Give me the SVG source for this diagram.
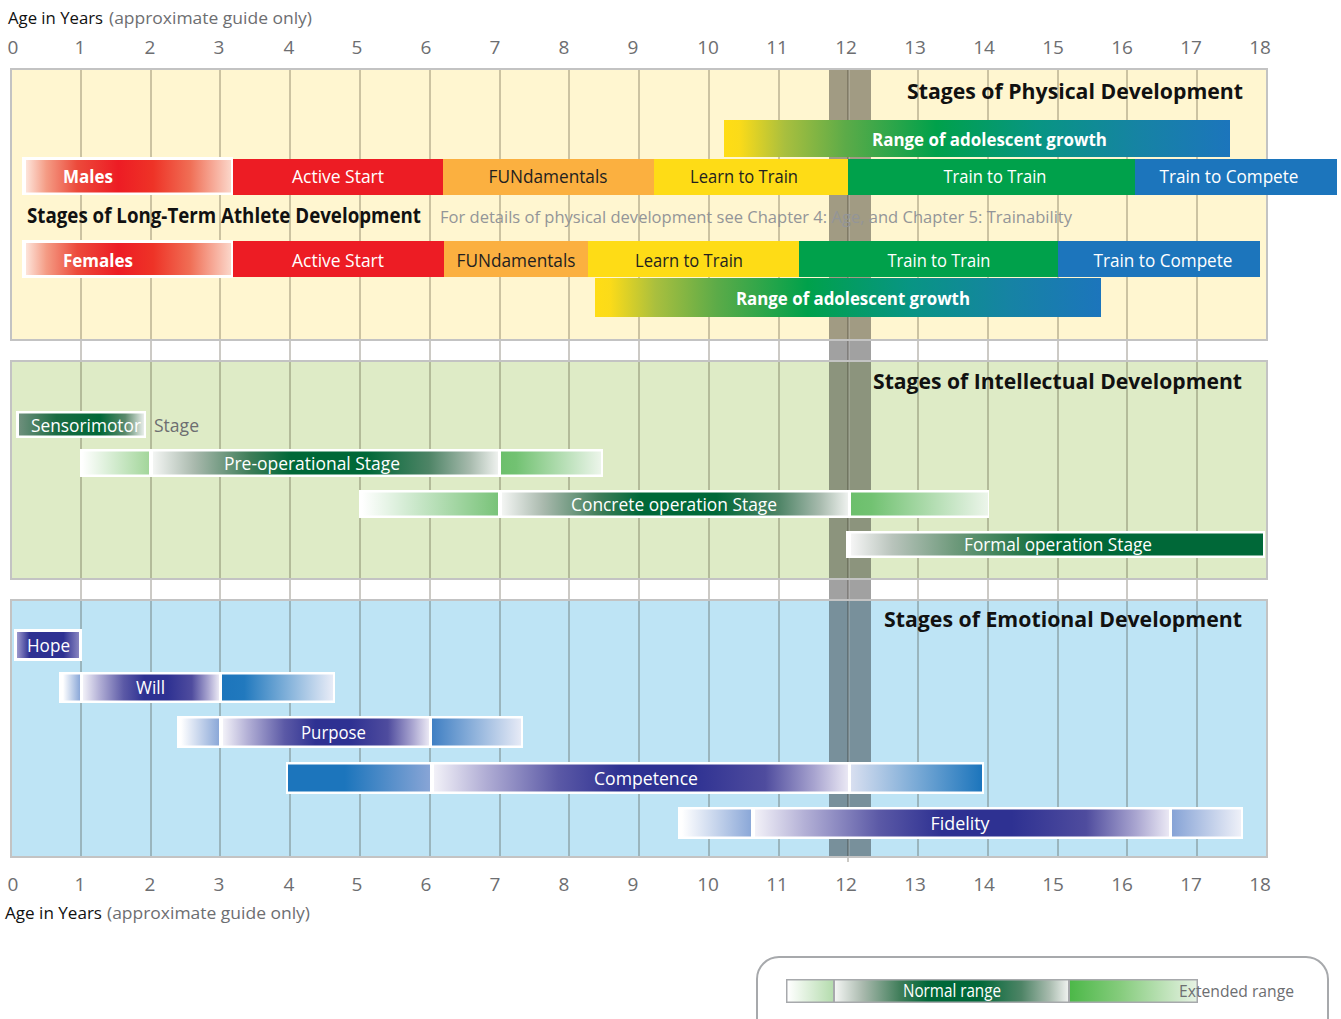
<svg xmlns="http://www.w3.org/2000/svg" width="1341" height="1019" viewBox="0 0 1341 1019">
<style>
text{font-family:"Open Sans","Noto Sans","Liberation Sans",sans-serif}
.ax{font-size:19px;fill:#6d6e71;text-anchor:middle}
.cap{font-size:16px}
.blk{fill:#111}
.gry{fill:#6d6e71}
.ttl{font-size:22px;font-weight:bold;fill:#111}
.lb{font-size:18px;text-anchor:middle}
.w{fill:#fff}
.d{fill:#231f20}
.b{font-weight:bold}
.grid line{stroke:#2a2410;stroke-opacity:0.3;stroke-width:1.6}
.pan{stroke:#c3c3c3;stroke-width:2}
.wb{fill:#fff}
</style>
<defs>
<linearGradient id="gMF"><stop offset="0" stop-color="#fde4da"/><stop offset="0.1" stop-color="#f49b84"/><stop offset="0.25" stop-color="#ec4a3b"/><stop offset="0.45" stop-color="#ed1c24"/><stop offset="0.62" stop-color="#ee3327"/><stop offset="0.8" stop-color="#f06e55"/><stop offset="1" stop-color="#fbd6c9"/></linearGradient>
<linearGradient id="gGrowth"><stop offset="0" stop-color="#ffdd15"/><stop offset="0.03" stop-color="#fbdb19"/><stop offset="0.12" stop-color="#a9bf3e"/><stop offset="0.24" stop-color="#5cab48"/><stop offset="0.42" stop-color="#00a14b"/><stop offset="0.62" stop-color="#089583"/><stop offset="0.82" stop-color="#1683a4"/><stop offset="1" stop-color="#1c75bc"/></linearGradient>
<linearGradient id="gGN"><stop offset="0" stop-color="#f3f5f3"/><stop offset="0.12" stop-color="#a9b9ad"/><stop offset="0.28" stop-color="#3f7d59"/><stop offset="0.4" stop-color="#006838"/><stop offset="0.62" stop-color="#006838"/><stop offset="0.8" stop-color="#4e8466"/><stop offset="0.92" stop-color="#a8bbae"/><stop offset="1" stop-color="#eef1ee"/></linearGradient>
<linearGradient id="gSen"><stop offset="0" stop-color="#6e8f7c"/><stop offset="0.3" stop-color="#1a6b42"/><stop offset="0.65" stop-color="#006838"/><stop offset="0.85" stop-color="#5b8a6c"/><stop offset="1" stop-color="#e9eeea"/></linearGradient>
<linearGradient id="gFor"><stop offset="0" stop-color="#f5f5f5"/><stop offset="0.1" stop-color="#b9c4bc"/><stop offset="0.25" stop-color="#6f9a7c"/><stop offset="0.4" stop-color="#2d7a4e"/><stop offset="0.5" stop-color="#006838"/><stop offset="1" stop-color="#006838"/></linearGradient>
<linearGradient id="gGL1"><stop offset="0" stop-color="#ffffff"/><stop offset="1" stop-color="#a3d69b"/></linearGradient>
<linearGradient id="gGL"><stop offset="0" stop-color="#ffffff"/><stop offset="1" stop-color="#79c379"/></linearGradient>
<linearGradient id="gGR"><stop offset="0" stop-color="#6cbf6c"/><stop offset="0.15" stop-color="#72c272"/><stop offset="1" stop-color="#ecf5ea"/></linearGradient>
<linearGradient id="gNavy"><stop offset="0" stop-color="#f2f1f8"/><stop offset="0.12" stop-color="#b3b0d6"/><stop offset="0.3" stop-color="#5b59a6"/><stop offset="0.45" stop-color="#2e3192"/><stop offset="0.62" stop-color="#2e3192"/><stop offset="0.8" stop-color="#4f4c9e"/><stop offset="0.92" stop-color="#a9a5d0"/><stop offset="1" stop-color="#eae8f4"/></linearGradient>
<linearGradient id="gHope"><stop offset="0" stop-color="#9c98cc"/><stop offset="0.2" stop-color="#2e3192"/><stop offset="0.75" stop-color="#2e3192"/><stop offset="1" stop-color="#8784c0"/></linearGradient>
<linearGradient id="gBL"><stop offset="0" stop-color="#ffffff"/><stop offset="1" stop-color="#8ba8d8"/></linearGradient>
<linearGradient id="gWillR"><stop offset="0" stop-color="#1c75bc"/><stop offset="0.2" stop-color="#2179be"/><stop offset="1" stop-color="#e8ecf7"/></linearGradient>
<linearGradient id="gPurR"><stop offset="0" stop-color="#3f7fc3"/><stop offset="1" stop-color="#e6eaf6"/></linearGradient>
<linearGradient id="gFidR"><stop offset="0" stop-color="#86a3d6"/><stop offset="1" stop-color="#eef0f8"/></linearGradient>
<linearGradient id="gComL"><stop offset="0" stop-color="#1c75bc"/><stop offset="0.4" stop-color="#1c75bc"/><stop offset="1" stop-color="#88a5d6"/></linearGradient>
<linearGradient id="gComR"><stop offset="0" stop-color="#d8dff0"/><stop offset="1" stop-color="#1c75bc"/></linearGradient>
<linearGradient id="gLegL"><stop offset="0" stop-color="#ffffff"/><stop offset="1" stop-color="#b5dcae"/></linearGradient>
<linearGradient id="gLegR"><stop offset="0" stop-color="#4cb848"/><stop offset="0.4" stop-color="#86cc7d"/><stop offset="1" stop-color="#e6f2e3"/></linearGradient>
</defs>

<rect width="1341" height="1019" fill="#fff"/>

<!-- axis top -->
<g id="axis-top">
<text x="8" y="24" class="cap blk" textLength="95" lengthAdjust="spacingAndGlyphs">Age in Years</text>
<text x="109" y="24" class="cap gry" textLength="203" lengthAdjust="spacingAndGlyphs">(approximate guide only)</text>
<text class="ax" x="13" y="54">0</text><text class="ax" x="80" y="54">1</text><text class="ax" x="150" y="54">2</text><text class="ax" x="219" y="54">3</text><text class="ax" x="289" y="54">4</text><text class="ax" x="357" y="54">5</text><text class="ax" x="426" y="54">6</text><text class="ax" x="495" y="54">7</text><text class="ax" x="564" y="54">8</text><text class="ax" x="633" y="54">9</text><text class="ax" x="708" y="54">10</text><text class="ax" x="777" y="54">11</text><text class="ax" x="846" y="54">12</text><text class="ax" x="915" y="54">13</text><text class="ax" x="984" y="54">14</text><text class="ax" x="1053" y="54">15</text><text class="ax" x="1122" y="54">16</text><text class="ax" x="1191" y="54">17</text><text class="ax" x="1260" y="54">18</text>
</g>

<!-- panel fills -->
<rect x="11" y="69" width="1256" height="271" fill="#fff6d0"/>
<rect x="11" y="361" width="1256" height="218" fill="#deebc6"/>
<rect x="11" y="600" width="1256" height="257" fill="#bee4f5"/>

<g class="grid">
<line x1="81" y1="69" x2="81" y2="857"/><line x1="151" y1="69" x2="151" y2="857"/><line x1="220" y1="69" x2="220" y2="857"/><line x1="290" y1="69" x2="290" y2="857"/><line x1="360" y1="69" x2="360" y2="857"/><line x1="430" y1="69" x2="430" y2="857"/><line x1="500" y1="69" x2="500" y2="857"/><line x1="569" y1="69" x2="569" y2="857"/><line x1="639" y1="69" x2="639" y2="857"/><line x1="709" y1="69" x2="709" y2="857"/><line x1="779" y1="69" x2="779" y2="857"/><line x1="848" y1="69" x2="848" y2="862"/><line x1="918" y1="69" x2="918" y2="857"/><line x1="988" y1="69" x2="988" y2="857"/><line x1="1058" y1="69" x2="1058" y2="857"/><line x1="1127" y1="69" x2="1127" y2="857"/><line x1="1197" y1="69" x2="1197" y2="857"/>
</g>

<!-- age 12 band -->
<rect id="band" x="829" y="69" width="42" height="788" fill="#000" fill-opacity="0.37"/>
<line x1="849" y1="69" x2="849" y2="857" stroke="#fff" stroke-opacity="0.22" stroke-width="1.4"/>

<!-- panel borders -->
<rect class="pan" x="11" y="69" width="1256" height="271" fill="none"/>
<rect class="pan" x="11" y="361" width="1256" height="218" fill="none"/>
<rect class="pan" x="11" y="600" width="1256" height="257" fill="none"/>

<!-- Physical -->
<g id="physical">
<text class="ttl" x="907" y="99" textLength="336" lengthAdjust="spacingAndGlyphs">Stages of Physical Development</text>
<g id="male-growth"><rect x="724" y="120" width="506" height="37" fill="url(#gGrowth)"/><text class="w b" x="872" y="146" font-size="18" textLength="235" lengthAdjust="spacingAndGlyphs">Range of adolescent growth</text></g>
<g id="males"><rect class="wb" x="22" y="157" width="211" height="38"/><rect x="26" y="160" width="205" height="32.5" fill="url(#gMF)"/><text class="lb w b" x="88" y="183" textLength="50" lengthAdjust="spacingAndGlyphs">Males</text></g>
<g id="m-active"><rect x="233" y="159" width="210" height="36" fill="#ed1c24"/><text class="lb w" x="338" y="183" textLength="92" lengthAdjust="spacingAndGlyphs">Active Start</text></g>
<g id="m-fun"><rect x="443" y="159" width="211" height="36" fill="#fbb040"/><text class="lb d" x="548" y="183" textLength="119" lengthAdjust="spacingAndGlyphs">FUNdamentals</text></g>
<g id="m-learn"><rect x="654" y="159" width="194" height="36" fill="#fedc16"/><text class="lb d" x="744" y="183" textLength="108" lengthAdjust="spacingAndGlyphs">Learn to Train</text></g>
<g id="m-ttt"><rect x="848" y="159" width="287" height="36" fill="#00a14b"/><text class="lb w" x="995" y="183" textLength="103" lengthAdjust="spacingAndGlyphs">Train to Train</text></g>
<g id="m-ttc"><rect x="1135" y="159" width="202" height="36" fill="#1c75bc"/><text class="lb w" x="1229" y="183" textLength="139" lengthAdjust="spacingAndGlyphs">Train to Compete</text></g>
<text class="b blk" x="27" y="223" font-size="21" textLength="394" lengthAdjust="spacingAndGlyphs">Stages of Long-Term Athlete Development</text>
<text x="440" y="223" font-size="17" fill="#939598" textLength="632" lengthAdjust="spacingAndGlyphs">For details of physical development see Chapter 4: Age, and Chapter 5: Trainability</text>
<g id="females"><rect class="wb" x="22" y="240" width="211" height="38"/><rect x="26" y="243" width="205" height="32" fill="url(#gMF)"/><text class="lb w b" x="98" y="266.5" textLength="70" lengthAdjust="spacingAndGlyphs">Females</text></g>
<g id="f-active"><rect x="233" y="241" width="211" height="36" fill="#ed1c24"/><text class="lb w" x="338" y="266.5" textLength="92" lengthAdjust="spacingAndGlyphs">Active Start</text></g>
<g id="f-fun"><rect x="444" y="241" width="144" height="36" fill="#fbb040"/><text class="lb d" x="516" y="266.5" textLength="119" lengthAdjust="spacingAndGlyphs">FUNdamentals</text></g>
<g id="f-learn"><rect x="588" y="241" width="211" height="36" fill="#fedc16"/><text class="lb d" x="689" y="266.5" textLength="108" lengthAdjust="spacingAndGlyphs">Learn to Train</text></g>
<g id="f-ttt"><rect x="799" y="241" width="259" height="36" fill="#00a14b"/><text class="lb w" x="939" y="266.5" textLength="103" lengthAdjust="spacingAndGlyphs">Train to Train</text></g>
<g id="f-ttc"><rect x="1058" y="241" width="202" height="36" fill="#1c75bc"/><text class="lb w" x="1163" y="266.5" textLength="139" lengthAdjust="spacingAndGlyphs">Train to Compete</text></g>
<g id="female-growth"><rect x="595" y="278" width="506" height="39" fill="url(#gGrowth)"/><text class="w b" x="736" y="305" font-size="18" textLength="234" lengthAdjust="spacingAndGlyphs">Range of adolescent growth</text></g>
</g>

<!-- Intellectual -->
<g id="intellectual">
<text class="ttl" x="873" y="389" textLength="369" lengthAdjust="spacingAndGlyphs">Stages of Intellectual Development</text>
<g id="sensorimotor"><rect class="wb" x="16" y="411" width="130" height="27"/><rect x="19" y="413.5" width="125" height="22" fill="url(#gSen)"/><text class="w" x="31" y="431.5" font-size="18" textLength="110" lengthAdjust="spacingAndGlyphs">Sensorimotor</text><text class="gry" x="154" y="431.5" font-size="18" textLength="45" lengthAdjust="spacingAndGlyphs">Stage</text></g>
<g id="preoperational"><rect class="wb" x="80" y="449" width="523" height="28"/><rect x="82" y="451.5" width="67" height="23" fill="url(#gGL1)"/><rect x="153" y="451.5" width="345" height="23" fill="url(#gGN)"/><rect x="501" y="451.5" width="100" height="23" fill="url(#gGR)"/><text class="lb w" x="312" y="469.5" textLength="176" lengthAdjust="spacingAndGlyphs">Pre-operational Stage</text></g>
<g id="concrete"><rect class="wb" x="359" y="490" width="630" height="28"/><rect x="362" y="492.5" width="136" height="23" fill="url(#gGL)"/><rect x="502" y="492.5" width="346" height="23" fill="url(#gGN)"/><rect x="851" y="492.5" width="137" height="23" fill="url(#gGR)"/><text class="lb w" x="674" y="510.5" textLength="206" lengthAdjust="spacingAndGlyphs">Concrete operation Stage</text></g>
<g id="formal"><rect class="wb" x="846" y="531" width="419" height="27"/><rect x="851" y="533.5" width="412" height="22" fill="url(#gFor)"/><text class="lb w" x="1058" y="551" textLength="188" lengthAdjust="spacingAndGlyphs">Formal operation Stage</text></g>
</g>

<!-- Emotional -->
<g id="emotional">
<text class="ttl" x="884" y="627" textLength="358" lengthAdjust="spacingAndGlyphs">Stages of Emotional Development</text>
<g id="hope"><rect class="wb" x="14" y="629" width="68" height="32"/><rect x="17" y="632" width="62" height="26" fill="url(#gHope)"/><text class="lb w" x="48.5" y="652" textLength="43" lengthAdjust="spacingAndGlyphs">Hope</text></g>
<g id="will"><rect class="wb" x="59" y="672" width="276" height="31"/><rect x="63" y="674.5" width="17" height="26" fill="url(#gBL)"/><rect x="83" y="674.5" width="136" height="26" fill="url(#gNavy)"/><rect x="222" y="674.5" width="111" height="26" fill="url(#gWillR)"/><text class="lb w" x="150.5" y="694" textLength="29" lengthAdjust="spacingAndGlyphs">Will</text></g>
<g id="purpose"><rect class="wb" x="177" y="716" width="346" height="32"/><rect x="181" y="718.5" width="38" height="27" fill="url(#gBL)"/><rect x="223" y="718.5" width="206" height="27" fill="url(#gNavy)"/><rect x="432" y="718.5" width="89" height="27" fill="url(#gPurR)"/><text class="lb w" x="333.5" y="739" textLength="65" lengthAdjust="spacingAndGlyphs">Purpose</text></g>
<g id="competence"><rect class="wb" x="286" y="762" width="698" height="32"/><rect x="288" y="764.5" width="142" height="27" fill="url(#gComL)"/><rect x="434" y="764.5" width="414" height="27" fill="url(#gNavy)"/><rect x="851" y="764.5" width="131" height="27" fill="url(#gComR)"/><text class="lb w" x="646" y="785" textLength="104" lengthAdjust="spacingAndGlyphs">Competence</text></g>
<g id="fidelity"><rect class="wb" x="678" y="807" width="565" height="32"/><rect x="682" y="809.5" width="69" height="27" fill="url(#gBL)"/><rect x="755" y="809.5" width="414" height="27" fill="url(#gNavy)"/><rect x="1172" y="809.5" width="69" height="27" fill="url(#gFidR)"/><text class="lb w" x="960" y="830" textLength="59" lengthAdjust="spacingAndGlyphs">Fidelity</text></g>
</g>

<!-- axis bottom -->
<g id="axis-bottom">
<text class="ax" x="13" y="891">0</text><text class="ax" x="80" y="891">1</text><text class="ax" x="150" y="891">2</text><text class="ax" x="219" y="891">3</text><text class="ax" x="289" y="891">4</text><text class="ax" x="357" y="891">5</text><text class="ax" x="426" y="891">6</text><text class="ax" x="495" y="891">7</text><text class="ax" x="564" y="891">8</text><text class="ax" x="633" y="891">9</text><text class="ax" x="708" y="891">10</text><text class="ax" x="777" y="891">11</text><text class="ax" x="846" y="891">12</text><text class="ax" x="915" y="891">13</text><text class="ax" x="984" y="891">14</text><text class="ax" x="1053" y="891">15</text><text class="ax" x="1122" y="891">16</text><text class="ax" x="1191" y="891">17</text><text class="ax" x="1260" y="891">18</text>
<text x="5" y="919" class="cap blk" textLength="97" lengthAdjust="spacingAndGlyphs">Age in Years</text>
<text x="107" y="919" class="cap gry" textLength="203" lengthAdjust="spacingAndGlyphs">(approximate guide only)</text>
</g>

<!-- legend -->
<g id="legend">
<rect x="757" y="957" width="571" height="90" rx="22" fill="#fff" stroke="#a7a9ac" stroke-width="2"/>
<rect x="786" y="979" width="412" height="24" fill="#a7a9ac"/>
<rect x="787.5" y="980.5" width="45.5" height="21" fill="url(#gLegL)"/>
<rect x="835" y="980.5" width="233" height="21" fill="url(#gGN)"/>
<rect x="1070" y="980.5" width="126.5" height="21" fill="url(#gLegR)"/>
<text class="lb w" x="952" y="997" font-size="17" textLength="98" lengthAdjust="spacingAndGlyphs">Normal range</text>
<text class="gry" x="1179" y="997" font-size="17" textLength="115" lengthAdjust="spacingAndGlyphs">Extended range</text>
</g>
<g id="connectors"/>
</svg>
